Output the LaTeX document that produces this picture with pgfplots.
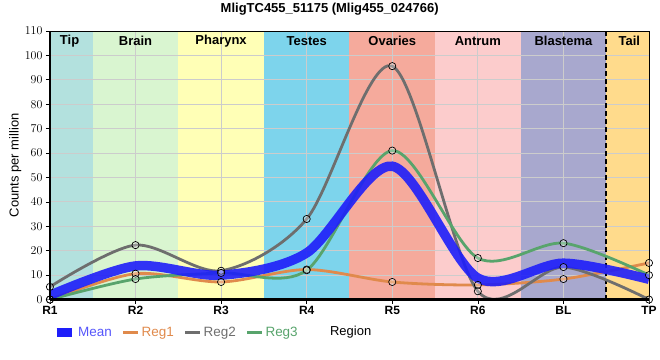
\documentclass[border=0pt]{standalone}
\usepackage{pgfplots}
\pgfplotsset{compat=1.18}
\usepackage{fontspec}
\setmainfont{Liberation Sans}
\definecolor{cMean}{RGB}{30,30,250}
\definecolor{cReg1}{RGB}{224,138,76}
\definecolor{cReg2}{RGB}{110,110,110}
\definecolor{cReg3}{RGB}{88,164,108}
\definecolor{bTip}{RGB}{179,225,222}
\definecolor{bBrain}{RGB}{217,245,208}
\definecolor{bPharynx}{RGB}{255,255,182}
\definecolor{bTestes}{RGB}{125,212,236}
\definecolor{bOvaries}{RGB}{245,170,156}
\definecolor{bAntrum}{RGB}{252,204,204}
\definecolor{bBlastema}{RGB}{168,168,206}
\definecolor{bTail}{RGB}{255,219,140}
\pgfplotstableread{
x reg1 reg2 reg3 mean
0 0.0  5.2  0.0  1.73
1 10.6 22.3 8.4  13.77
2 7.2  11.8 10.9 9.97
3 12.3 33.0 12.0 19.1
4 7.2  95.6 61.0 54.6
5 6.0  3.4  17.0 8.8
6 8.4  13.3 23.1 14.9
7 15.0 0.0  10.0 8.3
}\datatable
\tikzset{bandlab/.style={font=\bfseries\fontsize{13}{13}\selectfont, anchor=center, yshift=-10pt}}
\begin{document}
\begin{tikzpicture}
\begin{axis}[
  at={(0,0)}, anchor=south west,
  scale only axis, width=600pt, height=269pt,
  xmin=0, xmax=7, ymin=0, ymax=110,
  xtick={0,...,7}, xticklabels={R1,R2,R3,R4,R5,R6,BL,TP},
  ytick={0,10,...,110},
  xtick pos=bottom, ytick pos=left,
  tick align=outside, major tick length=4pt,
  tick style={black, line width=0.6pt},
  grid=major, grid style={color=black!20, line width=0.8pt},
  axis line style={black, line width=0.8pt},
  set layers, clip mode=individual,
  x tick label style={font=\bfseries\fontsize{12}{12}\selectfont, yshift=1pt},
  y tick label style={font=\fontsize{11.5}{11.5}\selectfont},
  title={MligTC455\_51175 (Mlig455\_024766)},
  title style={font=\bfseries\fontsize{13}{13}\selectfont, at={(axis description cs:0.467,1)}, anchor=base, yshift=12pt, inner sep=0pt},
  ylabel={Counts per million},
  ylabel style={font=\fontsize{13}{13}\selectfont, at={(axis description cs:-0.058,0.5)}, anchor=center},
  xlabel={Region},
  xlabel style={font=\fontsize{13}{13}\selectfont, at={(axis description cs:0.502,0)}, anchor=center, yshift=-33pt},
  legend columns=-1,
  legend image code/.code={\draw[#1] (0pt,0pt) -- (15pt,0pt);},
  legend style={at={(axis description cs:0,0)}, anchor=west, xshift=2pt, yshift=-33pt, draw=none, fill=none,
    inner sep=0pt, font=\fontsize{13.5}{13.5}\selectfont,
    /tikz/every even column/.append style={column sep=8pt}},
  legend cell align=left,
]
\begin{pgfonlayer}{axis background}
\fill[bTip] (axis cs:0,0) rectangle (axis cs:0.5,110);
\fill[bBrain] (axis cs:0.5,0) rectangle (axis cs:1.5,110);
\fill[bPharynx] (axis cs:1.5,0) rectangle (axis cs:2.5,110);
\fill[bTestes] (axis cs:2.5,0) rectangle (axis cs:3.5,110);
\fill[bOvaries] (axis cs:3.5,0) rectangle (axis cs:4.5,110);
\fill[bAntrum] (axis cs:4.5,0) rectangle (axis cs:5.5,110);
\fill[bBlastema] (axis cs:5.5,0) rectangle (axis cs:6.5,110);
\fill[bTail] (axis cs:6.5,0) rectangle (axis cs:7,110);
\end{pgfonlayer}
\draw[black, line width=2pt, dash pattern=on 5pt off 3pt] (axis cs:6.5,0) -- (axis cs:6.5,110);
\addplot[cReg1, line width=2.8pt, smooth, tension=0.5, forget plot] table[x=x,y=reg1] {\datatable};
\addplot[cReg2, line width=2.8pt, smooth, tension=0.5, forget plot] table[x=x,y=reg2] {\datatable};
\addplot[cReg3, line width=2.8pt, smooth, tension=0.5, forget plot] table[x=x,y=reg3] {\datatable};
\addplot[cMean, opacity=0.9, line width=9.5pt, smooth, tension=0.5, forget plot] table[x=x,y=mean] {\datatable};
\addplot[only marks, mark=*, mark size=3.6pt, mark options={draw=black, line width=0.7pt, fill=white, fill opacity=0.3}, forget plot] table[x=x,y=reg1] {\datatable};
\addplot[only marks, mark=*, mark size=3.6pt, mark options={draw=black, line width=0.7pt, fill=white, fill opacity=0.3}, forget plot] table[x=x,y=reg2] {\datatable};
\addplot[only marks, mark=*, mark size=3.6pt, mark options={draw=black, line width=0.7pt, fill=white, fill opacity=0.3}, forget plot] table[x=x,y=reg3] {\datatable};
\addlegendimage{cMean, line width=9pt}
\addlegendentry{\textcolor{cMean!75!white}{Mean}}
\addlegendimage{cReg1, line width=2.8pt}
\addlegendentry{\textcolor{cReg1}{Reg1}}
\addlegendimage{cReg2, line width=2.8pt}
\addlegendentry{\textcolor{cReg2}{Reg2}}
\addlegendimage{cReg3, line width=2.8pt}
\addlegendentry{\textcolor{cReg3}{Reg3}}
\draw[black, line width=2.2pt] (axis description cs:0,0) -- (axis description cs:0,1);
\draw[black, line width=2.2pt] (axis description cs:0,0) -- (axis description cs:1,0);
\node[bandlab] at (axis cs:0.23,110) {Tip};
\node[bandlab] at (axis cs:1,110) {Brain};
\node[bandlab] at (axis cs:2,110) {Pharynx};
\node[bandlab] at (axis cs:3,110) {Testes};
\node[bandlab] at (axis cs:4,110) {Ovaries};
\node[bandlab] at (axis cs:5,110) {Antrum};
\node[bandlab] at (axis cs:6,110) {Blastema};
\node[bandlab] at (axis cs:6.77,110) {Tail};
\end{axis}
\path (-50pt,-60pt) rectangle (610pt,300pt);
\end{tikzpicture}
\end{document}
